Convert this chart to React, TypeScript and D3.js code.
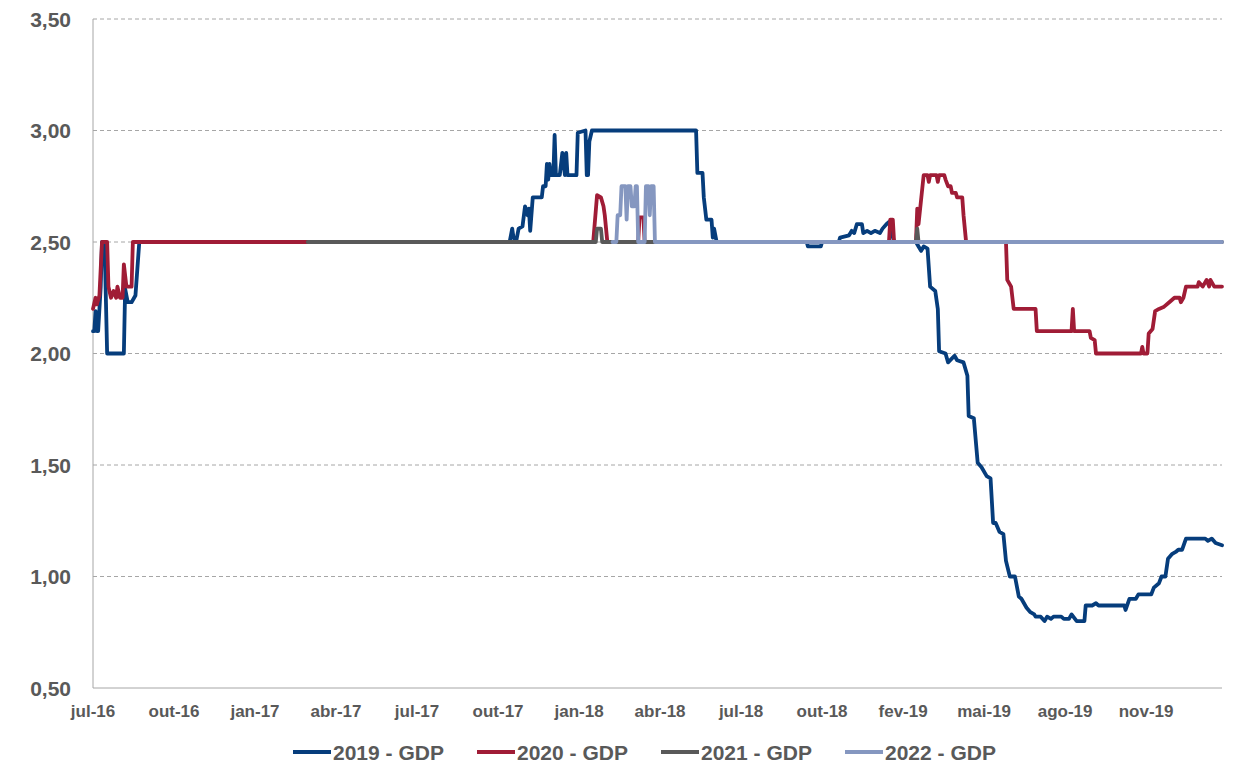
import React from 'react';
import * as d3 from 'd3';

// x = business-day observation number counted from jul-16
const tickLabels = ['jul-16', 'out-16', 'jan-17', 'abr-17', 'jul-17', 'out-17', 'jan-18', 'abr-18', 'jul-18', 'out-18', 'fev-19', 'mai-19', 'ago-19', 'nov-19'];
const tickStep = 63;
const lastObs = 878;
const yTicks = [0.5, 1, 1.5, 2, 2.5, 3, 3.5];
const seriesNames = ['2019 - GDP', '2020 - GDP', '2021 - GDP', '2022 - GDP'];

const gdp2019: [number, number][] = [
  [0, 2.10], [1, 2.10], [2, 2.19], [3, 2.10], [4, 2.10], [6, 2.30], [7, 2.50], [9, 2.50], [11, 2.00], [24, 2.00],
  [25, 2.29], [27, 2.23], [30, 2.23], [32, 2.25], [33, 2.26], [36, 2.50],
  [324, 2.50], [326, 2.56], [327, 2.52], [329, 2.50], [331, 2.56], [334, 2.57], [336, 2.66], [338, 2.62], [339, 2.65],
  [340, 2.55], [342, 2.70], [349, 2.70], [350, 2.75], [352, 2.75], [353, 2.85], [354, 2.78], [355, 2.85], [356, 2.80],
  [358, 2.80], [359, 2.98], [360, 2.80], [363, 2.80], [365, 2.90], [367, 2.80], [368, 2.90], [369, 2.80], [376, 2.80],
  [377, 2.99], [383, 3.00], [384, 2.80], [385, 2.80], [386, 2.95], [388, 3.00],
  [469, 3.00], [470, 2.81], [474, 2.81], [475, 2.70], [477, 2.60], [479, 2.60], [481, 2.60], [482, 2.52], [483, 2.56], [485, 2.50],
  [555, 2.50], [556, 2.48], [566, 2.48], [567, 2.50],
  [580, 2.50], [581, 2.52], [588, 2.53], [590, 2.55], [592, 2.54], [594, 2.58], [598, 2.58], [599, 2.54], [602, 2.55],
  [605, 2.54], [608, 2.55], [612, 2.54], [614, 2.56], [617, 2.58], [619, 2.59], [623, 2.50],
  [640, 2.50], [642, 2.48], [644, 2.46], [646, 2.48], [649, 2.47], [651, 2.30], [655, 2.28], [657, 2.20], [658, 2.01],
  [663, 2.00], [665, 1.96], [670, 1.99], [672, 1.97], [677, 1.96], [680, 1.90], [681, 1.72], [685, 1.71], [688, 1.51],
  [691, 1.49], [695, 1.45], [698, 1.44], [700, 1.24], [702, 1.24], [705, 1.20], [708, 1.19], [710, 1.07], [713, 1.00],
  [717, 1.00], [720, 0.91], [722, 0.90], [726, 0.86], [729, 0.84], [732, 0.83], [733, 0.82], [737, 0.82], [740, 0.80],
  [742, 0.82], [745, 0.81], [747, 0.82], [753, 0.82], [755, 0.81], [759, 0.81], [761, 0.83], [765, 0.80], [771, 0.80],
  [772, 0.87], [777, 0.87], [780, 0.88], [782, 0.87], [802, 0.87], [803, 0.85], [806, 0.90], [811, 0.90], [813, 0.92],
  [823, 0.92], [825, 0.95], [829, 0.97], [831, 1.00], [834, 1.00], [836, 1.08], [839, 1.10], [842, 1.11], [844, 1.12],
  [847, 1.12], [850, 1.17], [865, 1.17], [867, 1.16], [870, 1.17], [873, 1.15], [878, 1.14],
];

const gdp2020: [number, number][] = [
  [0, 2.20], [2, 2.25], [3, 2.22], [5, 2.26], [7, 2.50], [11, 2.50], [12, 2.30], [14, 2.25], [16, 2.28], [18, 2.25],
  [19, 2.30], [21, 2.25], [23, 2.25], [24, 2.40], [26, 2.30], [30, 2.30], [31, 2.50],
  [389, 2.50], [392, 2.71], [395, 2.70], [397, 2.66], [398, 2.62], [400, 2.50],
  [424, 2.50], [425, 2.61], [428, 2.61], [429, 2.50],
  [619, 2.50], [620, 2.60], [622, 2.60], [623, 2.50],
  [640, 2.50], [641, 2.65], [642, 2.58], [646, 2.80], [649, 2.80], [650, 2.77], [651, 2.80], [656, 2.80], [657, 2.77],
  [658, 2.80], [662, 2.80], [663, 2.78], [665, 2.75], [667, 2.75], [668, 2.72], [671, 2.72], [672, 2.70], [676, 2.70],
  [677, 2.62], [679, 2.50],
  [710, 2.50], [711, 2.33], [714, 2.30], [716, 2.20], [733, 2.20], [734, 2.10], [761, 2.10], [762, 2.20], [763, 2.10],
  [775, 2.10], [776, 2.07], [779, 2.06], [780, 2.00], [815, 2.00], [816, 2.03], [817, 2.00], [820, 2.00], [821, 2.09],
  [824, 2.11], [826, 2.19], [829, 2.20], [833, 2.21], [837, 2.23], [841, 2.25], [845, 2.25], [846, 2.23], [848, 2.25],
  [850, 2.30], [859, 2.30], [860, 2.32], [863, 2.30], [866, 2.33], [868, 2.30], [869, 2.33], [872, 2.30], [878, 2.30],
];

const gdp2021: [number, number][] = [
  [167, 2.50], [391, 2.50], [392, 2.56], [395, 2.56], [396, 2.50], [640, 2.50], [641, 2.56], [642, 2.50], [878, 2.50],
];

const gdp2022: [number, number][] = [
  [404, 2.50], [407, 2.50], [408, 2.62], [410, 2.62], [411, 2.75], [414, 2.75], [415, 2.60], [416, 2.75], [418, 2.75],
  [419, 2.66], [421, 2.66], [422, 2.75], [423, 2.75], [424, 2.50], [429, 2.50], [430, 2.75], [432, 2.75], [433, 2.62],
  [434, 2.75], [436, 2.75], [437, 2.50], [878, 2.50],
];

const allSeries = [gdp2019, gdp2020, gdp2021, gdp2022];
const colors = ['#063d7c', '#a01c36', '#595959', '#8597c0'];

const W = 1235;
const H = 769;
const m = { left: 93, right: 1222, top: 19, bottom: 688 };
const font = '"Liberation Sans", Arial, sans-serif';
const textColor = '#595959';

export default function App() {
  const x = d3.scaleLinear().domain([0, lastObs]).range([m.left, m.right]);
  const y = d3.scaleLinear().domain([0.5, 3.5]).range([m.bottom, m.top]);
  const line = d3.line<[number, number]>().x(d => x(d[0])).y(d => y(d[1]));
  const fmt = (v: number) => v.toFixed(2).replace('.', ',');

  const legendItemW = 184;
  const legendStart = 293;

  return (
    <svg width={W} height={H} style={{ position: 'absolute', left: 0, top: 0, background: '#fff' }}>
      {/* grid */}
      {yTicks.map(t => (
        <line key={t} x1={m.left} x2={m.right} y1={y(t)} y2={y(t)}
          stroke="#a6a6a6" strokeWidth={1} strokeDasharray={t === 0.5 ? undefined : '4,3'} />
      ))}
      <line x1={m.left} x2={m.left} y1={m.top} y2={m.bottom} stroke="#a6a6a6" strokeWidth={1} />

      {/* y labels */}
      {yTicks.map(t => (
        <text key={t} x={71} y={y(t)} dy="0.36em" textAnchor="end" fontFamily={font}
          fontWeight="bold" fontSize={21} fill={textColor}>{fmt(t)}</text>
      ))}

      {/* x labels */}
      {tickLabels.map((lab, i) => (
        <text key={lab} x={x(i * tickStep)} y={711} dy="0.36em" textAnchor="middle" fontFamily={font}
          fontWeight="bold" fontSize={17} fill={textColor}>{lab}</text>
      ))}

      {/* series */}
      {allSeries.map((s, i) => (
        <path key={i} d={line(s) || ''} fill="none" stroke={colors[i]} strokeWidth={3.8}
          strokeLinejoin="round" strokeLinecap="round" />
      ))}

      {/* legend */}
      {seriesNames.map((name, i) => {
        const lx = legendStart + i * legendItemW;
        return (
          <g key={name}>
            <line x1={lx} x2={lx + 38} y1={752} y2={752} stroke={colors[i]} strokeWidth={4} />
            <text x={lx + 40} y={752} dy="0.36em" fontFamily={font} fontWeight="bold" fontSize={21}
              fill={textColor}>{name}</text>
          </g>
        );
      })}
    </svg>
  );
}
